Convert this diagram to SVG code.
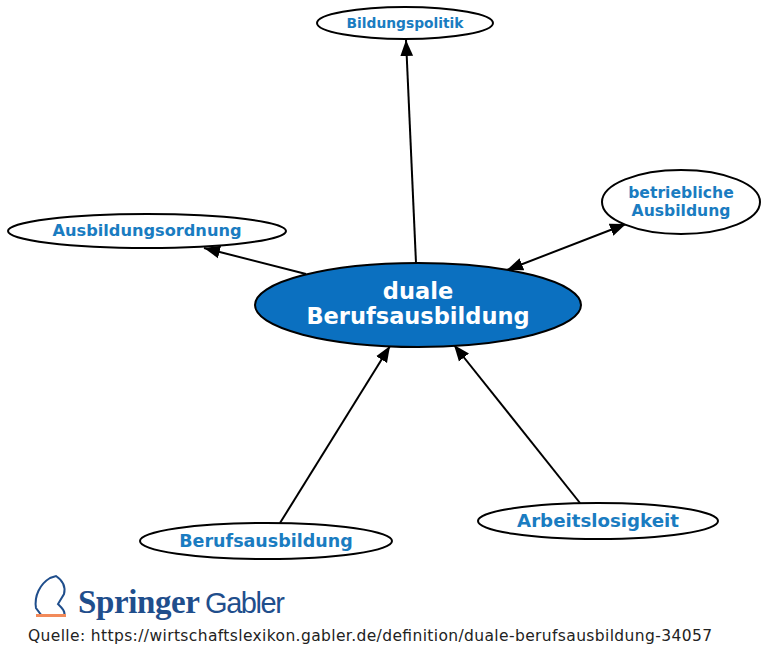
<svg xmlns="http://www.w3.org/2000/svg" width="768" height="664" viewBox="0 0 768 664">
<style>
.n{fill:#fff;stroke:#000;stroke-width:2}
.t{font-family:"DejaVu Sans",sans-serif;font-weight:bold;fill:#1a7cc1;text-anchor:middle}
.c line{stroke:#000;stroke-width:2}
</style>
<defs><marker id="b" viewBox="0 0 10 10" refX="10" refY="5" markerWidth="16" markerHeight="16" orient="auto-start-reverse" markerUnits="userSpaceOnUse"><path d="M0,1L10,5L0,9z"/></marker></defs>
<rect width="768" height="664" fill="#fff"/>
<g class="c">
<line x1="416" y1="263" x2="406" y2="40" marker-end="url(#b)"/>
<line x1="306" y1="274" x2="204" y2="248" marker-end="url(#b)"/>
<line x1="507" y1="270" x2="626" y2="224" marker-start="url(#b)" marker-end="url(#b)"/>
<line x1="280" y1="523" x2="390" y2="346" marker-end="url(#b)"/>
<line x1="580" y1="503" x2="454" y2="345" marker-end="url(#b)"/>
</g>
<g id="center"><ellipse cx="418" cy="305" rx="163" ry="42" fill="#0b70c0" stroke="#000" stroke-width="2"/>
<text x="418" y="299" class="t" style="fill:#fff" font-size="22.5">duale</text>
<text x="418" y="324" class="t" style="fill:#fff" font-size="22.5">Berufsausbildung</text></g>
<g id="n1"><ellipse cx="405" cy="23" rx="88" ry="16" class="n"/><text x="405" y="28" class="t" font-size="13.8">Bildungspolitik</text></g>
<g id="n2"><ellipse cx="147" cy="231" rx="139" ry="17" class="n"/><text x="147" y="236" class="t" font-size="16.2">Ausbildungsordnung</text></g>
<g id="n3"><ellipse cx="681" cy="202" rx="79" ry="32" class="n"/><text x="681" y="198" class="t" font-size="15.6">betriebliche</text><text x="681" y="216" class="t" font-size="15.6">Ausbildung</text></g>
<g id="n4"><ellipse cx="266" cy="541" rx="126" ry="18" class="n"/><text x="266" y="547" class="t" font-size="17.5">Berufsausbildung</text></g>
<g id="n5"><ellipse cx="598" cy="521" rx="120" ry="18" class="n"/><text x="598" y="527" class="t" font-size="18.2">Arbeitslosigkeit</text></g>
<g id="logo">
<path d="M36,608 C34,596 40,584 50,578 L56,576 C62,580 66,586 64,594 L58,604 C62,608 66,612 64,616 L42,616 Z" fill="none" stroke="#1f4e8c" stroke-width="2"/>
<rect x="36" y="614" width="30" height="3" fill="#f28a5a"/>
<text x="78" y="613" font-family="Liberation Serif,serif" font-size="33" font-weight="bold" fill="#1f4e8c" textLength="122">Springer</text>
<text x="205" y="613" font-family="Liberation Sans,sans-serif" font-size="29" fill="#1f4e8c" textLength="80">Gabler</text>
</g>
<text x="28" y="641" font-family="DejaVu Sans,sans-serif" font-size="15.5" fill="#222" textLength="684">Quelle: https://wirtschaftslexikon.gabler.de/definition/duale-berufsausbildung-34057</text>
</svg>
